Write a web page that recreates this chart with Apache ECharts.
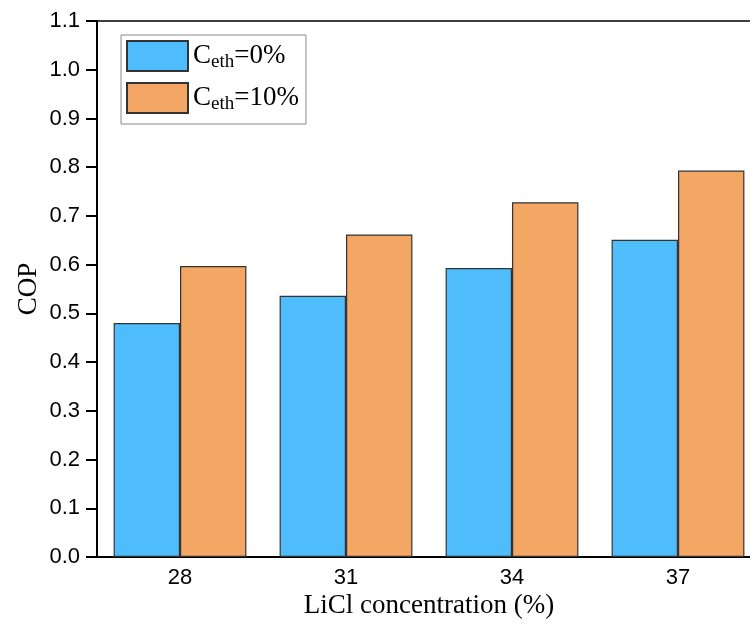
<!DOCTYPE html>
<html>
<head>
<meta charset="utf-8">
<script src="https://cdn.jsdelivr.net/npm/echarts@6/dist/echarts.min.js"></script>
<style>
  html, body { margin: 0; padding: 0; background: #fff; }
  #chart { width: 750px; height: 638px; }
</style>
</head>
<body>
<div id="chart"></div>
<script>
// LiCl concentration categories (%)
const categories = ['28', '31', '34', '37'];
// COP without ethanol
const copEth0 = [0.480, 0.536, 0.593, 0.651];
// COP with 10% ethanol
const copEth10 = [0.597, 0.662, 0.728, 0.793];
// y-axis range
const yMin = 0, yMax = 1.1, yStep = 0.1;

const serif = '"Liberation Serif", "Times New Roman", serif';
const sans = '"Liberation Sans", Arial, sans-serif';

const legendRich = {
  a: { fontFamily: serif, fontSize: 27, color: '#000', lineHeight: 30 },
  b: { fontFamily: serif, fontSize: 19, color: '#000', lineHeight: 30, padding: [12, 0, 0, 0] }
};

const chart = echarts.init(document.getElementById('chart'));
chart.setOption({
  animation: false,
  backgroundColor: '#fff',
  grid: {
    left: 97, top: 21, right: -11, bottom: 81,
    outerBoundsMode: 'none',
    containLabel: false,
    show: true, borderColor: '#000', borderWidth: 1.5, backgroundColor: 'transparent'
  },
  legend: {
    left: 121, top: 35, orient: 'vertical',
    itemWidth: 61, itemHeight: 30, itemGap: 10,
    padding: [5, 7, 10, 5],
    borderColor: '#8a8a8a', borderWidth: 1,
    icon: 'rect',
    data: ['eth0', 'eth10'],
    formatter: function (name) {
      return name === 'eth0' ? '{a|C}{b|eth}{a|=0%}' : '{a|C}{b|eth}{a|=10%}';
    },
    textStyle: { rich: legendRich }
  },
  xAxis: {
    type: 'category',
    data: categories,
    name: 'LiCl concentration (%)',
    nameLocation: 'middle',
    nameGap: 35,
    nameMoveOverlap: false,
    nameTextStyle: { fontFamily: serif, fontSize: 27, color: '#000', verticalAlign: 'top' },
    axisLine: { lineStyle: { color: '#000', width: 2 } },
    axisTick: { show: false },
    axisLabel: { fontFamily: sans, fontSize: 22, color: '#000', margin: 10 }
  },
  yAxis: {
    type: 'value',
    min: yMin, max: yMax, interval: yStep,
    name: 'COP',
    nameLocation: 'middle',
    nameGap: 55,
    nameMoveOverlap: false,
    nameTextStyle: { fontFamily: serif, fontSize: 27, color: '#000' },
    axisLine: { show: true, lineStyle: { color: '#000', width: 2 } },
    axisTick: { show: true, inside: false, length: 11, lineStyle: { color: '#000', width: 2 } },
    splitLine: { show: false },
    axisLabel: {
      fontFamily: sans, fontSize: 22, color: '#000', margin: 17,
      formatter: function (v) { return v.toFixed(1); }
    }
  },
  series: [
    {
      name: 'eth0', type: 'bar', data: copEth0,
      barGap: '0%', barCategoryGap: '20%',
      itemStyle: { color: '#4FBCFC', borderColor: '#333', borderWidth: 1.2 }
    },
    {
      name: 'eth10', type: 'bar', data: copEth10,
      barGap: '0%', barCategoryGap: '20%',
      itemStyle: { color: '#F4A665', borderColor: '#333', borderWidth: 1.2 }
    }
  ]
});
</script>
</body>
</html>
